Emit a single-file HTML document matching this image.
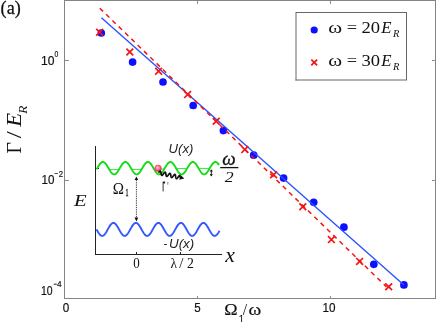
<!DOCTYPE html>
<html><head><meta charset="utf-8">
<style>
html,body{margin:0;padding:0;background:#fff;}
body{width:436px;height:322px;overflow:hidden;position:relative;font-family:"Liberation Sans",sans-serif;}
svg{position:absolute;left:0;top:0;transform:translateZ(0);}
</style></head><body>
<svg width="436" height="322" viewBox="0 0 436 322">
<!-- axes box -->
<g stroke="#848484" stroke-width="1" fill="none" shape-rendering="crispEdges">
<path d="M64.5,0.5H435.5V298.5H64.5Z"/>
</g>
<g stroke="#8e8e8e" stroke-width="1" fill="none" shape-rendering="crispEdges">
<path d="M64.5,60.5h4M64.5,180.5h4M435.5,60.5h-4M435.5,180.5h-4"/>
<path d="M197.5,298.5v-3M330.5,298.5v-3M197.5,0.5v3M330.5,0.5v3"/>
</g>
<!-- fit lines -->
<g fill="#0c10ff"><circle cx="101.3" cy="33" r="3.85"/><circle cx="132.6" cy="62.1" r="3.85"/><circle cx="163" cy="82" r="3.85"/><circle cx="193.2" cy="105.5" r="3.85"/><circle cx="223.4" cy="130.6" r="3.85"/><circle cx="253.7" cy="155.2" r="3.85"/><circle cx="283.6" cy="178.1" r="3.85"/><circle cx="313.7" cy="202.3" r="3.85"/><circle cx="343.9" cy="227.2" r="3.85"/><circle cx="373.8" cy="264.3" r="3.85"/><circle cx="403.9" cy="284.9" r="3.85"/></g>
<path d="M101.4,17.7L403.9,285.1" stroke="#2a52ff" stroke-width="1.4" fill="none"/>
<path d="M99.8,8.2L386.5,286.9" stroke="#f41414" stroke-width="1.5" stroke-dasharray="4.6,4.2" fill="none"/>
<g stroke="#f41414" stroke-width="1.7" fill="none"><path d="M96.2,28.8L103.0,35.6M96.2,35.6L103.0,28.8"/><path d="M126.4,48.6L133.2,55.4M126.4,55.4L133.2,48.6"/><path d="M155.2,67.9L162.0,74.7M155.2,74.7L162.0,67.9"/><path d="M184.2,91.2L191.0,98.0M184.2,98.0L191.0,91.2"/><path d="M212.8,117.8L219.6,124.6M212.8,124.6L219.6,117.8"/><path d="M241.4,146.2L248.2,153.0M241.4,153.0L248.2,146.2"/><path d="M270.2,171.4L277.0,178.2M270.2,178.2L277.0,171.4"/><path d="M299.4,203.4L306.2,210.2M299.4,210.2L306.2,203.4"/><path d="M328.0,236.2L334.8,243.0M328.0,243.0L334.8,236.2"/><path d="M356.2,258.0L363.0,264.8M356.2,264.8L363.0,258.0"/><path d="M385.3,283.3L392.1,290.1M385.3,290.1L392.1,283.3"/></g>
<!-- legend -->
<rect x="296" y="12.5" width="110.5" height="67.5" fill="#fff"/>
<path d="M295.5,12.5H406.5V80" stroke="#666" stroke-width="1" fill="none" shape-rendering="crispEdges"/>
<path d="M296,12V80.5M295.5,80H407" stroke="#666" stroke-width="1" fill="none"/>
<circle cx="314.2" cy="30" r="3.6" fill="#0c10ff"/>
<path d="M311.3,59.6l5.8,5.8m-5.8,0l5.8,-5.8" stroke="#f41414" stroke-width="1.7"/>
<!-- inset -->
<path d="M95.5,146V254.5H222" stroke="#222" stroke-width="1" fill="none" shape-rendering="crispEdges"/>
<path d="M136.5,254.5v-3M180.5,254.5v-3M95.5,168.5h3" stroke="#222" stroke-width="1" fill="none" shape-rendering="crispEdges"/>
<g stroke="#3ce03c" stroke-width="1" fill="none"><path d="M109.6,169.6H118.8"/><path d="M132.1,169.4H141.2"/><path d="M154.6,169.0H163.8"/><path d="M177.1,168.6H186.2"/><path d="M199.6,168.4H208.8"/></g>
<path d="M96.60,169.36 L97.10,168.50 L97.60,167.64 L98.10,166.78 L98.60,165.96 L99.10,165.18 L99.60,164.45 L100.10,163.80 L100.60,163.24 L101.10,162.77 L101.60,162.40 L102.10,162.15 L102.60,162.02 L103.10,162.01 L103.60,162.12 L104.10,162.34 L104.60,162.69 L105.10,163.13 L105.60,163.68 L106.10,164.32 L106.60,165.03 L107.10,165.80 L107.60,166.62 L108.10,167.47 L108.60,168.33 L109.10,169.19 L109.60,170.03 L110.10,170.84 L110.60,171.59 L111.10,172.28 L111.60,172.89 L112.10,173.41 L112.60,173.83 L113.10,174.14 L113.60,174.33 L114.10,174.40 L114.60,174.35 L115.10,174.18 L115.60,173.90 L116.10,173.50 L116.60,173.00 L117.10,172.41 L117.60,171.74 L118.10,171.00 L118.60,170.20 L119.10,169.36 L119.60,168.50 L120.10,167.64 L120.60,166.78 L121.10,165.96 L121.60,165.18 L122.10,164.45 L122.60,163.80 L123.10,163.24 L123.60,162.77 L124.10,162.40 L124.60,162.15 L125.10,162.02 L125.60,162.01 L126.10,162.12 L126.60,162.34 L127.10,162.69 L127.60,163.13 L128.10,163.68 L128.60,164.32 L129.10,165.03 L129.60,165.80 L130.10,166.62 L130.60,167.47 L131.10,168.33 L131.60,169.19 L132.10,170.03 L132.60,170.84 L133.10,171.59 L133.60,172.28 L134.10,172.89 L134.60,173.41 L135.10,173.83 L135.60,174.14 L136.10,174.33 L136.60,174.40 L137.10,174.35 L137.60,174.18 L138.10,173.90 L138.60,173.50 L139.10,173.00 L139.60,172.41 L140.10,171.74 L140.60,171.00 L141.10,170.20 L141.60,169.36 L142.10,168.50 L142.60,167.64 L143.10,166.78 L143.60,165.96 L144.10,165.18 L144.60,164.45 L145.10,163.80 L145.60,163.24 L146.10,162.77 L146.60,162.40 L147.10,162.15 L147.60,162.02 L148.10,162.01 L148.60,162.12 L149.10,162.34 L149.60,162.69 L150.10,163.13 L150.60,163.68 L151.10,164.32 L151.60,165.03 L152.10,165.80 L152.60,166.62 L153.10,167.47 L153.60,168.33 L154.10,169.19 L154.60,170.03 L155.10,170.84 L155.60,171.59 L156.10,172.28 L156.60,172.89 L157.10,173.41 L157.60,173.83 L158.10,174.14 L158.60,174.33 L159.10,174.40 L159.60,174.35 L160.10,174.18 L160.60,173.90 L161.10,173.50 L161.60,173.00 L162.10,172.41 L162.60,171.74 L163.10,171.00 L163.60,170.20 L164.10,169.36 L164.60,168.50 L165.10,167.64 L165.60,166.78 L166.10,165.96 L166.60,165.18 L167.10,164.45 L167.60,163.80 L168.10,163.24 L168.60,162.77 L169.10,162.40 L169.60,162.15 L170.10,162.02 L170.60,162.01 L171.10,162.12 L171.60,162.34 L172.10,162.69 L172.60,163.13 L173.10,163.68 L173.60,164.32 L174.10,165.03 L174.60,165.80 L175.10,166.62 L175.60,167.47 L176.10,168.33 L176.60,169.19 L177.10,170.03 L177.60,170.84 L178.10,171.59 L178.60,172.28 L179.10,172.89 L179.60,173.41 L180.10,173.83 L180.60,174.14 L181.10,174.33 L181.60,174.40 L182.10,174.35 L182.60,174.18 L183.10,173.90 L183.60,173.50 L184.10,173.00 L184.60,172.41 L185.10,171.74 L185.60,171.00 L186.10,170.20 L186.60,169.36 L187.10,168.50 L187.60,167.64 L188.10,166.78 L188.60,165.96 L189.10,165.18 L189.60,164.45 L190.10,163.80 L190.60,163.24 L191.10,162.77 L191.60,162.40 L192.10,162.15 L192.60,162.02 L193.10,162.01 L193.60,162.12 L194.10,162.34 L194.60,162.69 L195.10,163.13 L195.60,163.68 L196.10,164.32 L196.60,165.03 L197.10,165.80 L197.60,166.62 L198.10,167.47 L198.60,168.33 L199.10,169.19 L199.60,170.03 L200.10,170.84 L200.60,171.59 L201.10,172.28 L201.60,172.89 L202.10,173.41 L202.60,173.83 L203.10,174.14 L203.60,174.33 L204.10,174.40 L204.60,174.35 L205.10,174.18 L205.60,173.90 L206.10,173.50 L206.60,173.00 L207.10,172.41 L207.60,171.74 L208.10,171.00 L208.60,170.20 L209.10,169.36 L209.60,168.50 L210.10,167.64 L210.60,166.78 L211.10,165.96 L211.60,165.18 L212.10,164.45 L212.60,163.80 L213.10,163.24 L213.60,162.77 L214.10,162.40 L214.60,162.15 L215.10,162.02 L215.60,162.01 L216.10,162.12 L216.60,162.34 L217.10,162.69 L217.60,163.13 L218.10,163.68 L218.60,164.32 L219.10,165.03" stroke="#14dc14" stroke-width="1.9" fill="none" stroke-linejoin="round"/>
<path d="M96.50,229.35 L97.00,230.26 L97.50,231.15 L98.00,232.00 L98.50,232.81 L99.00,233.54 L99.50,234.20 L100.00,234.76 L100.50,235.22 L101.00,235.57 L101.50,235.79 L102.00,235.89 L102.50,235.87 L103.00,235.72 L103.50,235.44 L104.00,235.05 L104.50,234.55 L105.00,233.95 L105.50,233.26 L106.00,232.49 L106.50,231.67 L107.00,230.80 L107.50,229.90 L108.00,228.99 L108.50,228.09 L109.00,227.22 L109.50,226.39 L110.00,225.62 L110.50,224.92 L111.00,224.31 L111.50,223.79 L112.00,223.39 L112.50,223.10 L113.00,222.94 L113.50,222.90 L114.00,222.99 L114.50,223.20 L115.00,223.54 L115.50,223.99 L116.00,224.54 L116.50,225.19 L117.00,225.92 L117.50,226.71 L118.00,227.56 L118.50,228.45 L119.00,229.35 L119.50,230.26 L120.00,231.15 L120.50,232.00 L121.00,232.81 L121.50,233.54 L122.00,234.20 L122.50,234.76 L123.00,235.22 L123.50,235.57 L124.00,235.79 L124.50,235.89 L125.00,235.87 L125.50,235.72 L126.00,235.44 L126.50,235.05 L127.00,234.55 L127.50,233.95 L128.00,233.26 L128.50,232.49 L129.00,231.67 L129.50,230.80 L130.00,229.90 L130.50,228.99 L131.00,228.09 L131.50,227.22 L132.00,226.39 L132.50,225.62 L133.00,224.92 L133.50,224.31 L134.00,223.79 L134.50,223.39 L135.00,223.10 L135.50,222.94 L136.00,222.90 L136.50,222.99 L137.00,223.20 L137.50,223.54 L138.00,223.99 L138.50,224.54 L139.00,225.19 L139.50,225.92 L140.00,226.71 L140.50,227.56 L141.00,228.45 L141.50,229.35 L142.00,230.26 L142.50,231.15 L143.00,232.00 L143.50,232.81 L144.00,233.54 L144.50,234.20 L145.00,234.76 L145.50,235.22 L146.00,235.57 L146.50,235.79 L147.00,235.89 L147.50,235.87 L148.00,235.72 L148.50,235.44 L149.00,235.05 L149.50,234.55 L150.00,233.95 L150.50,233.26 L151.00,232.49 L151.50,231.67 L152.00,230.80 L152.50,229.90 L153.00,228.99 L153.50,228.09 L154.00,227.22 L154.50,226.39 L155.00,225.62 L155.50,224.92 L156.00,224.31 L156.50,223.79 L157.00,223.39 L157.50,223.10 L158.00,222.94 L158.50,222.90 L159.00,222.99 L159.50,223.20 L160.00,223.54 L160.50,223.99 L161.00,224.54 L161.50,225.19 L162.00,225.92 L162.50,226.71 L163.00,227.56 L163.50,228.45 L164.00,229.35 L164.50,230.26 L165.00,231.15 L165.50,232.00 L166.00,232.81 L166.50,233.54 L167.00,234.20 L167.50,234.76 L168.00,235.22 L168.50,235.57 L169.00,235.79 L169.50,235.89 L170.00,235.87 L170.50,235.72 L171.00,235.44 L171.50,235.05 L172.00,234.55 L172.50,233.95 L173.00,233.26 L173.50,232.49 L174.00,231.67 L174.50,230.80 L175.00,229.90 L175.50,228.99 L176.00,228.09 L176.50,227.22 L177.00,226.39 L177.50,225.62 L178.00,224.92 L178.50,224.31 L179.00,223.79 L179.50,223.39 L180.00,223.10 L180.50,222.94 L181.00,222.90 L181.50,222.99 L182.00,223.20 L182.50,223.54 L183.00,223.99 L183.50,224.54 L184.00,225.19 L184.50,225.92 L185.00,226.71 L185.50,227.56 L186.00,228.45 L186.50,229.35 L187.00,230.26 L187.50,231.15 L188.00,232.00 L188.50,232.81 L189.00,233.54 L189.50,234.20 L190.00,234.76 L190.50,235.22 L191.00,235.57 L191.50,235.79 L192.00,235.89 L192.50,235.87 L193.00,235.72 L193.50,235.44 L194.00,235.05 L194.50,234.55 L195.00,233.95 L195.50,233.26 L196.00,232.49 L196.50,231.67 L197.00,230.80 L197.50,229.90 L198.00,228.99 L198.50,228.09 L199.00,227.22 L199.50,226.39 L200.00,225.62 L200.50,224.92 L201.00,224.31 L201.50,223.79 L202.00,223.39 L202.50,223.10 L203.00,222.94 L203.50,222.90 L204.00,222.99 L204.50,223.20 L205.00,223.54 L205.50,223.99 L206.00,224.54 L206.50,225.19 L207.00,225.92 L207.50,226.71 L208.00,227.56 L208.50,228.45 L209.00,229.35 L209.50,230.26 L210.00,231.15 L210.50,232.00 L211.00,232.81 L211.50,233.54 L212.00,234.20 L212.50,234.76 L213.00,235.22 L213.50,235.57 L214.00,235.79 L214.50,235.89 L215.00,235.87 L215.50,235.72 L216.00,235.44 L216.50,235.05 L217.00,234.55 L217.50,233.95 L218.00,233.26 L218.50,232.49 L219.00,231.67 L219.50,230.80" stroke="#3358ff" stroke-width="1.9" fill="none" stroke-linejoin="round"/>
<!-- dotted arrow -->
<path d="M136.4,180V218" stroke="#222" stroke-width="1" stroke-dasharray="0.9,0.9" fill="none"/>
<path d="M136.4,176.5l-1.8,3.4h3.6zM136.4,221.4l-1.9,-3.9h3.8z" fill="#111"/>
<!-- ball -->
<defs><radialGradient id="bg" cx="0.45" cy="0.42" r="0.6"><stop offset="0" stop-color="#ffd0dc"/><stop offset="0.4" stop-color="#ff7a98"/><stop offset="1" stop-color="#e01848"/></radialGradient></defs>
<circle cx="158.05" cy="168.3" r="3.5" fill="url(#bg)"/>
<path d="M158.60,172.70 L158.88,172.30 L159.16,171.93 L159.43,171.61 L159.68,171.36 L159.91,171.19 L160.12,171.11 L160.31,171.15 L160.47,171.28 L160.62,171.52 L160.74,171.84 L160.84,172.24 L160.94,172.68 L161.02,173.16 L161.11,173.64 L161.20,174.10 L161.30,174.52 L161.42,174.87 L161.55,175.14 L161.70,175.31 L161.88,175.38 L162.09,175.35 L162.31,175.22 L162.55,174.99 L162.82,174.69 L163.09,174.33 L163.37,173.95 L163.66,173.55 L163.94,173.16 L164.21,172.82 L164.47,172.54 L164.71,172.34 L164.93,172.23 L165.12,172.22 L165.29,172.32 L165.44,172.52 L165.57,172.81 L165.68,173.18 L165.78,173.61 L165.87,174.08 L165.96,174.57 L166.04,175.04 L166.14,175.47 L166.25,175.85 L166.38,176.15 L166.52,176.36 L166.69,176.47 L166.89,176.47 L167.10,176.37 L167.34,176.18 L167.60,175.91 L167.87,175.57 L168.15,175.19 L168.43,174.79 L168.71,174.40 L168.99,174.04 L169.25,173.73 L169.50,173.50 L169.73,173.35 L169.93,173.31 L170.11,173.37 L170.27,173.53 L170.41,173.79 L170.52,174.14 L170.62,174.55 L170.72,175.01 L170.80,175.49 L170.89,175.97 L170.98,176.42 L171.09,176.82 L171.20,177.15 L171.34,177.39 L171.51,177.54 L171.69,177.58 L171.90,177.52 L172.13,177.36 L172.38,177.11 L172.64,176.80 L172.92,176.43 L173.21,176.04 L173.49,175.64 L173.77,175.26 L174.04,174.94 L174.29,174.67 L174.52,174.49 L174.74,174.41 L174.93,174.43 L175.09,174.56 L175.24,174.79 L175.36,175.10 L175.47,175.49 L175.56,175.93 L175.65,176.41 L175.73,176.89 L175.82,177.35 L175.92,177.78 L176.04,178.14 L176.17,178.41 L176.32,178.60 L176.50,178.68 L176.70,178.65 L176.92,178.53 L177.16,178.31 L177.42,178.02 L177.70,177.67 L177.98,177.28 L178.26,176.88 L178.54,176.50 L178.82,176.15 L179.08,175.86 L179.32,175.65 L179.54,175.53 L179.74,175.51 L179.87,175.81 L179.97,176.19 L180.08,176.60 L180.18,176.98 L180.31,177.31 L180.45,177.54 L180.61,177.68 L180.80,177.70" stroke="#111" stroke-width="1.7" fill="none"/>
<path d="M184.3,178.4l-5.0,1.3l1.3,-4.6z" fill="#111"/>
<path d="M220.2,167.6H238.4" stroke="#111" stroke-width="1.3"/>
<path d="M211.3,170.6V175.4" stroke="#111" stroke-width="0.9"/>
<path d="M211.3,169.3l-1.6,2.3h3.2zM211.3,176.5l-1.6,-2.3h3.2z" fill="#111"/>
<!-- text -->
<text transform="translate(0.60,14.20) scale(0.915,1)" font-family="Liberation Serif" font-style="normal" font-size="19.8" fill="#111" stroke="#111" stroke-width="0.3">(a)</text>
<text transform="translate(41.00,64.90) scale(0.922,1)" font-family="Liberation Sans" font-style="normal" font-size="13.1" fill="#111" stroke="#111" stroke-width="0.2">10</text>
<text transform="translate(54.60,57.40) scale(0.699,1)" font-family="Liberation Sans" font-style="normal" font-size="9.8" fill="#111" stroke="#111" stroke-width="0.2">0</text>
<text transform="translate(41.50,184.10) scale(0.887,1)" font-family="Liberation Sans" font-style="normal" font-size="13.1" fill="#111" stroke="#111" stroke-width="0.2">10</text>
<text transform="translate(54.20,177.20) scale(0.727,1)" font-family="Liberation Sans" font-style="normal" font-size="9.4" fill="#111" stroke="#111" stroke-width="0.2">−</text>
<text transform="translate(58.80,176.60) scale(0.807,1)" font-family="Liberation Sans" font-style="normal" font-size="9.6" fill="#111" stroke="#111" stroke-width="0.2">2</text>
<text transform="translate(40.90,294.80) scale(0.816,1)" font-family="Liberation Sans" font-style="normal" font-size="12.8" fill="#111" stroke="#111" stroke-width="0.2">10</text>
<text transform="translate(53.60,287.20) scale(0.646,1)" font-family="Liberation Sans" font-style="normal" font-size="9.0" fill="#111" stroke="#111" stroke-width="0.2">−</text>
<text transform="translate(57.00,287.20) scale(0.921,1)" font-family="Liberation Sans" font-style="normal" font-size="9.0" fill="#111" stroke="#111" stroke-width="0.2">4</text>
<text transform="translate(62.70,311.60) scale(0.901,1)" font-family="Liberation Sans" font-style="normal" font-size="13.0" fill="#111" stroke="#111" stroke-width="0.2">0</text>
<text transform="translate(194.20,311.60) scale(0.887,1)" font-family="Liberation Sans" font-style="normal" font-size="13.0" fill="#111" stroke="#111" stroke-width="0.2">5</text>
<text transform="translate(322.50,311.60) scale(0.901,1)" font-family="Liberation Sans" font-style="normal" font-size="13.0" fill="#111" stroke="#111" stroke-width="0.2">10</text>
<text transform="translate(21.20,153.50) rotate(-90) scale(0.931,1)" font-family="Liberation Serif" font-style="normal" font-size="21.3" fill="#111">Γ</text>
<text transform="translate(21.20,138.20) rotate(-90) scale(1.174,1)" font-family="Liberation Serif" font-style="normal" font-size="21.3" fill="#111">/</text>
<text transform="translate(21.20,126.86) rotate(-90) scale(1.067,1)" font-family="Liberation Serif" font-style="italic" font-size="21.3" fill="#111">E</text>
<text transform="translate(26.60,113.67) rotate(-90) scale(0.980,1)" font-family="Liberation Serif" font-style="italic" font-size="13.5" fill="#111">R</text>
<text transform="translate(224.20,315.00) scale(1.138,1)" font-family="Liberation Serif" font-style="normal" font-size="15.8" fill="#111" stroke="#111" stroke-width="0.15">Ω</text>
<text transform="translate(238.60,322.60) scale(1.000,1)" font-family="Liberation Sans" font-style="normal" font-size="10.5" fill="#111" >1</text>
<text transform="translate(242.80,315.00) scale(0.995,1)" font-family="Liberation Serif" font-style="normal" font-size="15.8" fill="#111" >/</text>
<text transform="translate(248.60,315.00) scale(1.227,1)" font-family="Liberation Serif" font-style="normal" font-size="15.8" fill="#111" stroke="#111" stroke-width="0.15">ω</text>
<text transform="translate(328.30,33.40) scale(1.276,1)" font-family="Liberation Serif" font-style="normal" font-size="16.5" fill="#111" >ω</text>
<text transform="translate(346.80,33.40) scale(1.116,1)" font-family="Liberation Serif" font-style="normal" font-size="16.5" fill="#2a2a2a" >=</text>
<text transform="translate(361.40,33.40) scale(1.120,1)" font-family="Liberation Serif" font-style="normal" font-size="16.6" fill="#111" >20</text>
<text transform="translate(381.25,33.40) scale(1.037,1)" font-family="Liberation Serif" font-style="italic" font-size="16.2" fill="#111" >E</text>
<text transform="translate(393.00,37.40) scale(1.092,1)" font-family="Liberation Serif" font-style="italic" font-size="9.6" fill="#111" >R</text>
<text transform="translate(328.30,65.60) scale(1.276,1)" font-family="Liberation Serif" font-style="normal" font-size="16.5" fill="#111" >ω</text>
<text transform="translate(346.80,65.60) scale(1.116,1)" font-family="Liberation Serif" font-style="normal" font-size="16.5" fill="#2a2a2a" >=</text>
<text transform="translate(361.40,65.60) scale(1.120,1)" font-family="Liberation Serif" font-style="normal" font-size="16.6" fill="#111" >30</text>
<text transform="translate(381.25,65.60) scale(1.037,1)" font-family="Liberation Serif" font-style="italic" font-size="16.2" fill="#111" >E</text>
<text transform="translate(393.00,69.60) scale(1.092,1)" font-family="Liberation Serif" font-style="italic" font-size="9.6" fill="#111" >R</text>
<text transform="translate(168.60,153.20) scale(1.009,1)" font-family="Liberation Sans" font-style="italic" font-size="13.0" fill="#222" >U(x)</text>
<text transform="translate(163.40,247.60) scale(0.827,1)" font-family="Liberation Sans" font-style="italic" font-size="13.0" fill="#222" >-</text>
<text transform="translate(169.00,247.60) scale(1.030,1)" font-family="Liberation Sans" font-style="italic" font-size="13.0" fill="#222" >U(x)</text>
<text transform="translate(112.80,193.70) scale(0.931,1)" font-family="Liberation Serif" font-style="normal" font-size="16.3" fill="#111" >Ω</text>
<text transform="translate(125.50,195.80) scale(0.612,1)" font-family="Liberation Serif" font-style="normal" font-size="9.8" fill="#111" stroke="#111" stroke-width="0.3">1</text>
<text transform="translate(74.11,205.70) scale(1.200,1)" font-family="Liberation Serif" font-style="italic" font-size="17.2" fill="#111" >E</text>
<text transform="translate(225.13,262.00) scale(1.060,1)" font-family="Liberation Serif" font-style="italic" font-size="20.5" fill="#111" >x</text>
<text transform="translate(133.30,268.00) scale(0.890,1)" font-family="Liberation Serif" font-style="normal" font-size="14.6" fill="#111" >0</text>
<text transform="translate(170.40,268.00) scale(0.882,1)" font-family="Liberation Serif" font-style="normal" font-size="15.2" fill="#111" >λ</text>
<text transform="translate(179.20,268.00) scale(0.987,1)" font-family="Liberation Serif" font-style="normal" font-size="15.2" fill="#111" >/</text>
<text transform="translate(186.90,268.00) scale(0.945,1)" font-family="Liberation Serif" font-style="normal" font-size="14.6" fill="#111" >2</text>
<text transform="translate(222.30,165.00) scale(1.068,1)" font-family="Liberation Serif" font-style="italic" font-size="17.8" fill="#111" stroke="#111" stroke-width="0.3">ω</text>
<text transform="translate(224.70,182.10) scale(1.187,1)" font-family="Liberation Serif" font-style="italic" font-size="15" fill="#111" >2</text>
<text transform="translate(162.40,190.60) scale(0.353,1)" font-family="Liberation Sans" font-style="normal" font-size="13.4" fill="#222" stroke="#222" stroke-width="0.6" vector-effect="non-scaling-stroke">Γ</text>
<text transform="translate(167.20,190.60) scale(0.511,1)" font-family="Liberation Sans" font-style="normal" font-size="13.4" fill="#222" >'</text>
</svg>
</body></html>
